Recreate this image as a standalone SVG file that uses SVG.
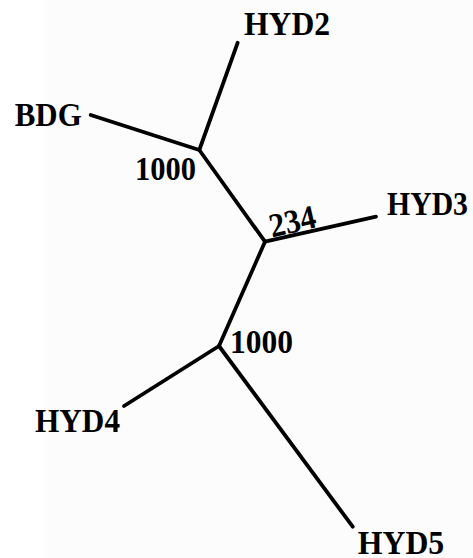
<svg xmlns="http://www.w3.org/2000/svg" width="473" height="558" viewBox="0 0 473 558">
<style>
.lbl{font-family:"Liberation Serif","Times New Roman",serif;font-weight:bold;font-size:33.5px;fill:#000}
.br{stroke:#000;stroke-width:3.8;stroke-linecap:round;fill:none}
</style>
<rect width="473" height="558" fill="#fff"/>
<rect x="45" width="428" height="558" fill="#fcfcfc"/>
<g id="connectors">
<line class="br" x1="199.3" y1="150" x2="237.7" y2="42.7"/>
<line class="br" x1="199.3" y1="150" x2="90.7" y2="115"/>
<line class="br" x1="199.3" y1="150" x2="265" y2="241.7"/>
<line class="br" x1="265" y1="241.7" x2="376" y2="216.7"/>
<line class="br" x1="265" y1="241.7" x2="219" y2="346"/>
<line class="br" x1="219" y1="346" x2="124" y2="406"/>
<line class="br" x1="219" y1="346" x2="352.7" y2="526.7"/>
</g>
<g id="HYD2"><text class="lbl" x="244" y="35" textLength="86" lengthAdjust="spacingAndGlyphs">HYD2</text></g>
<g id="BDG"><text class="lbl" x="14.7" y="126" textLength="67" lengthAdjust="spacingAndGlyphs">BDG</text></g>
<g id="HYD3"><text class="lbl" x="387" y="215" textLength="81" lengthAdjust="spacingAndGlyphs">HYD3</text></g>
<g id="HYD4"><text class="lbl" x="35" y="432.3" textLength="85" lengthAdjust="spacingAndGlyphs">HYD4</text></g>
<g id="HYD5"><text class="lbl" x="357.7" y="553.5" textLength="86.6" lengthAdjust="spacingAndGlyphs">HYD5</text></g>
<g id="n1"><text class="lbl" x="135" y="180" textLength="61" lengthAdjust="spacingAndGlyphs">1000</text></g>
<g id="n2"><text class="lbl" transform="translate(272,237.5) rotate(-13)" textLength="47" lengthAdjust="spacingAndGlyphs">234</text></g>
<g id="n3"><text class="lbl" x="230" y="353.3" textLength="63" lengthAdjust="spacingAndGlyphs">1000</text></g>
</svg>
